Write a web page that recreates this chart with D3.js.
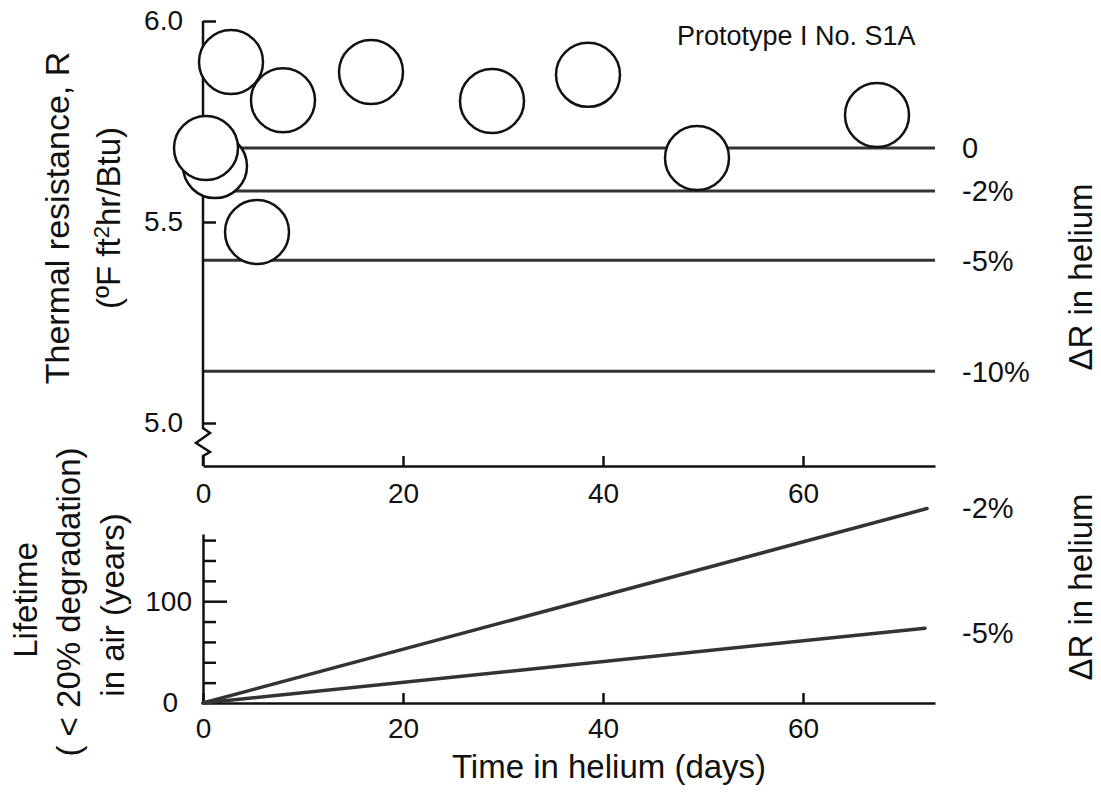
<!DOCTYPE html>
<html>
<head>
<meta charset="utf-8">
<script src="https://cdn.jsdelivr.net/npm/d3@7"></script>
<style>
  body { margin: 0; background: #fff; }
  svg { font-family: "Liberation Sans", Arial, Helvetica, sans-serif; fill: #111; }
  .axis path, .axis line { stroke: #111; stroke-width: 2.5; }
  .axis text { font-size: 28px; fill: #111; }
  .ref { stroke: #333; stroke-width: 3; }
  .life { stroke: #333; stroke-width: 3.5; stroke-linecap: round; }
  .pt { fill: #fff; stroke: #111; stroke-width: 2.5; }
  .lbl { font-size: 29px; }
  .title { font-size: 33px; }
</style>
</head>
<body>
<div id="chart"></div>
<script>
var width = 1101;
var height = 801;

// thermal resistance measurements (top panel), drawn in this order
var ptDays = [1.2, 0.3, 8.0, 2.8, 5.4, 16.8, 28.9, 38.5, 49.4, 67.4];
var ptR    = [5.639, 5.684, 5.803, 5.898, 5.475, 5.873, 5.801, 5.866, 5.659, 5.766];

// degradation reference levels (top panel)
var refLabels = ["0", "-2%", "-5%", "-10%"];
var refR      = [5.684, 5.577, 5.405, 5.129];

// lifetime lines (bottom panel): end point of each line
var lifeLabels = ["-2%", "-5%"];
var lifeEndDay = [72.4, 72.2];
var lifeEndYr  = [191, 73.5];

var dayTicks = [0, 20, 40, 60];
var rTicks = [5.0, 5.5, 6.0];
var yrTicks = [0, 20, 40, 60, 80, 100, 120, 140, 160];

var svg = d3.select("#chart").append("svg")
  .attr("width", width)
  .attr("height", height);

var x = d3.scaleLinear().domain([0, 73.2]).range([203, 935]);
var yR = d3.scaleLinear().domain([5.0, 6.0]).range([423, 21]);
var yL = d3.scaleLinear().domain([0, 166]).range([703, 534]);

var topBase = 466;

// ---------- top panel ----------
var gTop = svg.append("g");

// reference lines
gTop.selectAll("line.ref").data(refR)
  .enter().append("line")
  .attr("class", "ref")
  .attr("x1", x(0)).attr("x2", x(73.2))
  .attr("y1", function(d) { return yR(d); })
  .attr("y2", function(d) { return yR(d); });

gTop.selectAll("text.reflbl").data(refLabels)
  .enter().append("text")
  .attr("class", "lbl")
  .attr("x", 962)
  .attr("y", function(d, i) { return yR(refR[i]); })
  .attr("dy", "0.36em")
  .text(function(d) { return d; });

// y axis (ticks inside, labels left)
var yAxisTop = d3.axisLeft(yR).tickValues(rTicks)
  .tickSizeInner(-13).tickSizeOuter(0).tickPadding(20)
  .tickFormat(d3.format(".1f"));
var gyT = gTop.append("g").attr("class", "axis")
  .attr("transform", "translate(" + x(0) + ",0)")
  .call(yAxisTop);
gyT.select(".domain").remove();

// axis line with break
var x0 = x(0);
var brk = [
  [x0, yR(6.0)], [x0, yR(5.0) + 5], [x0 + 7, yR(5.0) + 10], [x0 - 7, yR(5.0) + 20],
  [x0 + 7, yR(5.0) + 29], [x0, yR(5.0) + 33], [x0, topBase]
];
gTop.append("path")
  .attr("d", d3.line()(brk))
  .attr("fill", "none")
  .attr("stroke", "#111")
  .attr("stroke-width", 2.5);

// x axis
var xAxisTop = d3.axisBottom(x).tickValues(dayTicks)
  .tickSizeInner(-10).tickSizeOuter(0).tickPadding(17);
gTop.append("g").attr("class", "axis")
  .attr("transform", "translate(0," + topBase + ")")
  .call(xAxisTop);

// data points
gTop.selectAll("circle.pt").data(ptDays)
  .enter().append("circle")
  .attr("class", "pt")
  .attr("cx", function(d) { return x(d); })
  .attr("cy", function(d, i) { return yR(ptR[i]); })
  .attr("r", 32);

gTop.append("text")
  .attr("x", 677).attr("y", 45)
  .style("font-size", "27px")
  .text("Prototype I No. S1A");

// axis titles
gTop.append("text").attr("class", "title")
  .attr("transform", "translate(69,218) rotate(-90)")
  .attr("text-anchor", "middle")
  .style("font-size", "34px")
  .text("Thermal resistance, R");

var unit = gTop.append("text").attr("class", "title")
  .attr("transform", "translate(120,218) rotate(-90)")
  .attr("text-anchor", "middle")
  .style("font-size", "33px");
unit.append("tspan").text("(ºF ft");
unit.append("tspan").attr("dy", -11).style("font-size", "22px").text("2");
unit.append("tspan").attr("dy", 11).text("hr/Btu)");

gTop.append("text").attr("class", "title")
  .attr("transform", "translate(1092,277) rotate(-90)")
  .attr("text-anchor", "middle")
  .text("ΔR in helium");

// ---------- bottom panel ----------
var gBot = svg.append("g");

var yAxisBot = d3.axisLeft(yL).tickValues(yrTicks)
  .tickSizeInner(-13).tickSizeOuter(0).tickPadding(11)
  .tickFormat(function(d) { return (d === 0 || d === 100) ? d : ""; });
var gyB = gBot.append("g").attr("class", "axis")
  .attr("transform", "translate(" + x(0) + ",0)")
  .call(yAxisBot);
gyB.selectAll(".tick line")
  .attr("x2", function(d) { return d === 100 ? 24 : (d === 0 ? 0 : 13); });
gyB.selectAll(".tick text")
  .attr("dx", function(d) { return d === 0 ? -14 : 0; });

var xAxisBot = d3.axisBottom(x).tickValues(dayTicks)
  .tickSizeInner(-10).tickSizeOuter(0).tickPadding(15);
gBot.append("g").attr("class", "axis")
  .attr("transform", "translate(0," + yL(0) + ")")
  .call(xAxisBot);

gBot.selectAll("line.life").data(lifeEndDay)
  .enter().append("line")
  .attr("class", "life")
  .attr("x1", x(0)).attr("y1", yL(0))
  .attr("x2", function(d) { return x(d); })
  .attr("y2", function(d, i) { return yL(lifeEndYr[i]); });

gBot.selectAll("text.lifelbl").data(lifeLabels)
  .enter().append("text")
  .attr("class", "lbl")
  .attr("x", 962)
  .attr("y", function(d, i) { return yL(lifeEndYr[i]) + (i === 0 ? -1 : 4); })
  .attr("dy", "0.36em")
  .text(function(d) { return d; });

gBot.append("text").attr("class", "title")
  .attr("transform", "translate(1092,587) rotate(-90)")
  .attr("text-anchor", "middle")
  .text("ΔR in helium");

gBot.append("text").attr("class", "title")
  .attr("transform", "translate(37,600) rotate(-90)")
  .attr("text-anchor", "middle")
  .text("Lifetime");
gBot.append("text").attr("class", "title")
  .attr("transform", "translate(80,602) rotate(-90)")
  .attr("text-anchor", "middle")
  .text("( < 20% degradation)");
gBot.append("text").attr("class", "title")
  .attr("transform", "translate(124,605) rotate(-90)")
  .attr("text-anchor", "middle")
  .text("in air (years)");

gBot.append("text").attr("class", "title")
  .attr("x", (x(0) + x(73.2)) / 2 + 40).attr("y", 778)
  .attr("text-anchor", "middle")
  .text("Time in helium (days)");
</script>
</body>
</html>
